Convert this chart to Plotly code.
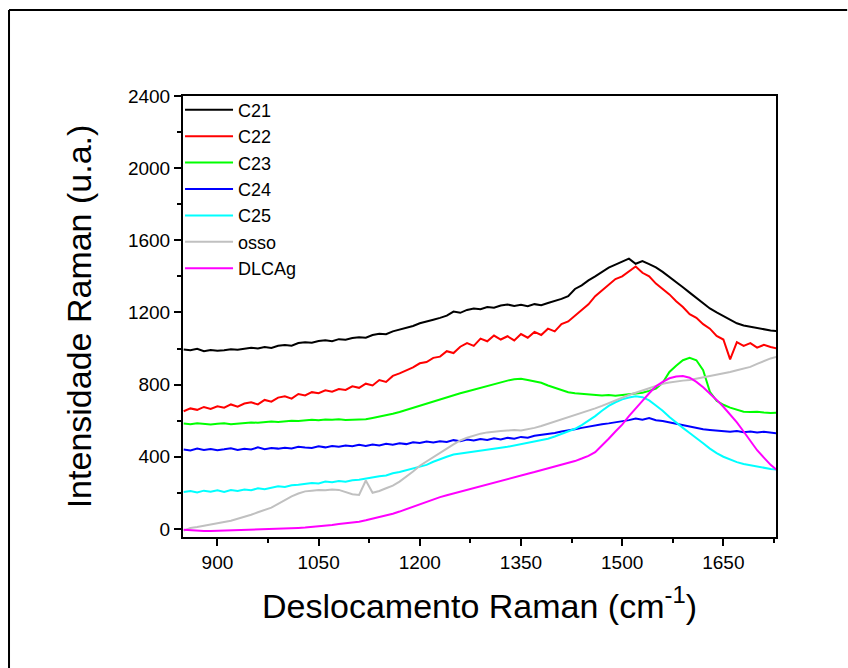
import plotly.graph_objects as go

shift = list(range(850, 1731, 10))

c21 = [995, 990, 998, 985, 992, 987, 990, 996, 993, 999,
       1004, 1000, 1008, 1003, 1015, 1020, 1016, 1030, 1035, 1032,
       1042, 1046, 1041, 1052, 1049, 1058, 1063, 1060, 1075, 1082,
       1079, 1095, 1104, 1112, 1125, 1140, 1148, 1160, 1170, 1182,
       1205, 1198, 1214, 1222, 1218, 1230, 1226, 1238, 1244, 1236,
       1242, 1235, 1246, 1240, 1252, 1262, 1275, 1290, 1330, 1350,
       1378, 1400, 1425, 1448, 1465, 1482, 1498, 1470, 1485, 1468,
       1450, 1425, 1398, 1372, 1340, 1310, 1282, 1250, 1222, 1200,
       1180, 1162, 1140, 1128, 1120, 1112, 1108, 1100, 1096]

c22 = [652, 668, 660, 676, 665, 680, 672, 690, 678, 695,
       702, 690, 715, 705, 728, 735, 722, 748, 740, 758,
       752, 768, 760, 775, 770, 790, 782, 805, 795, 825,
       815, 848, 862, 878, 895, 918, 925, 948, 955, 985,
       975, 1010, 1030, 1015, 1055, 1040, 1072, 1050, 1068, 1045,
       1080, 1060, 1092, 1075, 1110, 1095, 1135, 1150, 1180, 1210,
       1245, 1290, 1320, 1350, 1385, 1400, 1430, 1455, 1420, 1400,
       1360, 1330, 1300, 1262, 1230, 1190, 1170, 1135, 1110, 1070,
       1050, 940, 1035, 1015, 1030, 1005, 1020, 1008, 1000]

c23 = [584, 580, 586, 582, 579, 583, 585, 580, 584, 587,
       590, 588, 592, 595, 593, 597, 600, 598, 603, 605,
       602, 607, 605, 608, 604, 606, 610, 608, 615, 622,
       628, 638, 648, 660, 672, 684, 695, 705, 716, 728,
       740, 752, 762, 772, 785, 795, 805, 812, 822, 830,
       832, 826, 820, 810, 795, 782, 770, 758, 752, 748,
       745, 743, 740, 742, 738, 742, 745, 748, 755, 765,
       778, 810, 870, 905, 935, 948, 935, 880, 760, 710,
       688, 672, 660, 650, 648, 650, 645, 642, 645]

c24 = [440, 435, 445, 438, 443, 436, 441, 447, 437, 444,
       440, 452, 442, 448, 445, 450, 446, 455, 451, 448,
       458, 452, 460, 455, 462, 458, 466, 460, 468, 463,
       472, 466, 475, 470, 480, 476, 484, 479, 486, 482,
       492, 486, 495, 490, 498, 493, 502, 496, 505, 500,
       510, 505, 516, 520, 528, 532, 540, 545, 552, 560,
       568, 572, 580, 585, 590, 596, 603, 612, 605, 615,
       602, 598, 590, 580, 572, 565, 558, 552, 548, 545,
       540, 538, 542, 536, 540, 534, 538, 532, 530]

c25 = [205, 210, 202, 212, 206, 214, 205, 215, 210, 218,
       214, 225, 220, 230, 236, 232, 242, 245, 250, 255,
       252, 262, 258, 266, 262, 270, 272, 280, 284, 292,
       296, 308, 315, 326, 334, 345, 355, 372, 388, 400,
       412, 418, 422, 430, 435, 440, 445, 450, 455, 462,
       468, 476, 484, 492, 500, 512, 525, 540, 555, 575,
       598, 625, 655, 682, 702, 718, 728, 735, 730, 712,
       684, 655, 620, 588, 560, 532, 505, 475, 445, 420,
       400, 385, 370, 360, 352, 345, 340, 332, 328]

osso = [-10, 5, 10, 18, 22, 30, 38, 45, 55, 68,
        78, 92, 105, 118, 138, 160, 180, 196, 208, 212,
        216, 214, 218, 216, 205, 192, 188, 268, 200, 210,
        225, 240, 262, 288, 318, 350, 375, 398, 420, 445,
        468, 490, 505, 518, 528, 535, 540, 542, 545, 548,
        546, 552, 560, 570, 582, 592, 605, 618, 630, 642,
        655, 668, 682, 698, 712, 728, 742, 755, 768, 782,
        795, 805, 812, 818, 822, 825, 832, 840, 845, 852,
        862, 870, 880, 890, 898, 915, 930, 945, 955]

dlcag = [-5, -8, -10, -12, -12, -11, -10, -9, -8, -7,
         -6, -5, -4, -2, 0, 2, 4, 5, 7, 10,
         14, 18, 22, 27, 30, 35, 40, 48, 56, 64,
         72, 84, 96, 110, 124, 136, 150, 164, 176, 186,
         196, 206, 216, 228, 240, 250, 260, 270, 280, 290,
         298, 306, 315, 325, 334, 344, 354, 364, 376, 390,
         405, 425, 460, 500, 540, 578, 625, 665, 710, 752,
         790, 815, 835, 845, 847, 838, 815, 785, 752, 715,
         677, 635, 590, 540, 488, 436, 395, 355, 325]

names = ["C21", "C22", "C23", "C24", "C25", "osso", "DLCAg"]
series = [c21, c22, c23, c24, c25, osso, dlcag]
colors = ["#000000", "#FF0000", "#00FF00", "#0000FF", "#00FFFF", "#C0C0C0", "#FF00FF"]

FONT = "Liberation Sans, Arial, sans-serif"

fig = go.Figure()
for n, s, c in zip(names, series, colors):
    fig.add_trace(go.Scatter(x=shift, y=s, mode="lines", name=n,
                             line=dict(color=c, width=2)))

fig.update_layout(
    width=848, height=668,
    margin=dict(l=183, r=72, t=96, b=131, autoexpand=False),
    paper_bgcolor="white", plot_bgcolor="white",
    font=dict(family=FONT, color="black"),
    showlegend=True,
    legend=dict(x=-0.005, y=1.01, xanchor="left", yanchor="top",
                bgcolor="rgba(0,0,0,0)", font=dict(size=18, family=FONT),
                tracegroupgap=0, itemwidth=48),
    xaxis=dict(range=[849, 1728], tick0=900, dtick=150,
               showline=True, linecolor="black", linewidth=2, mirror=True,
               ticks="outside", ticklen=7, tickwidth=1.5, tickcolor="black",
               minor=dict(dtick=75, ticks="outside", ticklen=4, tickwidth=1.5, tickcolor="black"),
               showgrid=False, zeroline=False,
               tickfont=dict(size=19, family=FONT),
               title=dict(text="Deslocamento Raman (cm<sup>-1</sup>)",
                          font=dict(size=34, family=FONT), standoff=22)),
    yaxis=dict(range=[-45, 2400], tick0=0, dtick=400,
               showline=True, linecolor="black", linewidth=2, mirror=True,
               ticks="outside", ticklen=7, tickwidth=1.5, tickcolor="black",
               minor=dict(dtick=200, ticks="outside", ticklen=4, tickwidth=1.5, tickcolor="black"),
               showgrid=False, zeroline=False,
               tickfont=dict(size=19, family=FONT),
               title=dict(text="Intensidade Raman (u.a.)",
                          font=dict(size=34, family=FONT), standoff=26)),
    shapes=[
        dict(type="line", xref="paper", yref="paper",
             x0=-0.2934, x1=1.12, y0=1.195, y1=1.195,
             line=dict(color="black", width=2)),
        dict(type="line", xref="paper", yref="paper",
             x0=-0.2934, x1=-0.2934, y0=1.195, y1=-0.3,
             line=dict(color="black", width=2)),
    ],
)

fig.write_html(
    "out.html",
    config={"displayModeBar": False},
    post_script="document.body.style.margin='0';document.body.style.overflow='hidden';"
                "document.documentElement.style.overflow='hidden';",
)
